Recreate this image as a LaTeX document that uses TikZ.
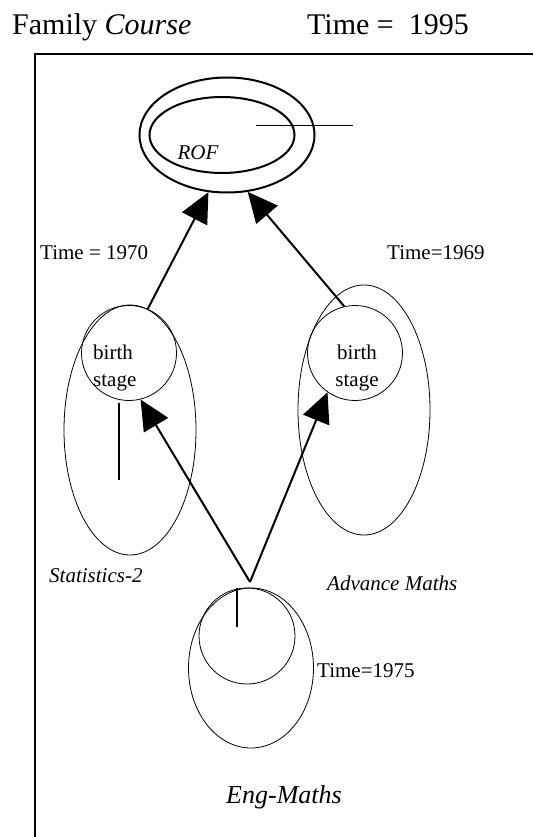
\documentclass[tikz,border=0pt]{standalone}
\usepackage{fontspec}
\setmainfont{Liberation Serif}
\usetikzlibrary{arrows.meta,shapes.geometric}

\begin{document}
\begin{tikzpicture}[x=1pt,y=-1pt,
  lbl/.style={font=\fontsize{21}{27}\selectfont,inner sep=0pt},
  itlbl/.style={font=\fontsize{21}{27}\selectfont\itshape,inner sep=0pt},
  ring/.style={draw,line width=0.8pt,inner sep=0pt},
  bold ring/.style={draw,ellipse,line width=2pt,inner sep=0pt},
  arr/.style={line width=2pt,-{Triangle[length=30pt,width=28pt]}}]
\useasboundingbox (0,0) rectangle (533,837);
\draw [line width=2pt] (35,837) -- (35,54) -- (533,54);
\node [anchor=base west,inner sep=0pt,font=\fontsize{30}{36}\selectfont] (fam) at (12,35) {Family \textit{Course}};
\node [anchor=base west,inner sep=0pt,font=\fontsize{30}{36}\selectfont] (now) at (307,35) {Time =\ \ 1995};
\node [bold ring,minimum width=175pt,minimum height=115pt] (rof) at (227,135) {};
\node [bold ring,minimum width=145pt,minimum height=76pt] (rofin) at (222,135) {};
\node [itlbl] (rofname) at (198,153) {ROF};
\coordinate (rofa) at (256,126);
\coordinate (rofb) at (353,126);
\draw [line width=1pt] (rofa) -- (rofb);
\node [ring,ellipse,minimum width=132pt,minimum height=250pt] (stat) at (130,430) {};
\node [ring,circle,minimum size=95pt] (birthL) at (129,353) {};
\node [lbl,anchor=west,align=left] (birthLtxt) at (93,368) {birth\\stage};
\node [ring,ellipse,minimum width=132pt,minimum height=250pt] (adv) at (364,410) {};
\node [ring,circle,minimum size=95pt] (birthR) at (355,353) {};
\node [lbl,align=center] (birthRtxt) at (357,368) {birth\\stage};
\node [ring,ellipse,minimum width=125pt,minimum height=160pt] (eng) at (251,668) {};
\node [ring,circle,minimum size=96pt] (engin) at (247,636) {};
\coordinate (apex) at (250,582);
\coordinate (statA) at (119,403);
\coordinate (statB) at (119,480);
\draw [line width=1.5pt] (statA) -- (statB);
\coordinate (engA) at (237,588);
\coordinate (engB) at (237,627);
\draw [line width=1.5pt] (engA) -- (engB);
\draw [arr] (birthL.67) -- (rof.252);
\draw [arr] (birthR.103) -- (rof.290);
\draw [arr] (apex) -- (birthL.284);
\draw [arr] (apex) -- (birthR.235);
\node [lbl,anchor=west] (t70) at (40,253) {Time = 1970};
\node [lbl,anchor=west] (t69) at (387,253) {Time=1969};
\node [itlbl,anchor=west] (statname) at (49,576) {Statistics-2};
\node [itlbl,anchor=west] (advname) at (327,583) {Advance Maths};
\node [lbl,anchor=west] (t75) at (317,671) {Time=1975};
\node [anchor=base,inner sep=0pt,font=\fontsize{26}{31}\selectfont\itshape] (engname) at (284,803) {Eng-Maths};
\end{tikzpicture}
\end{document}
